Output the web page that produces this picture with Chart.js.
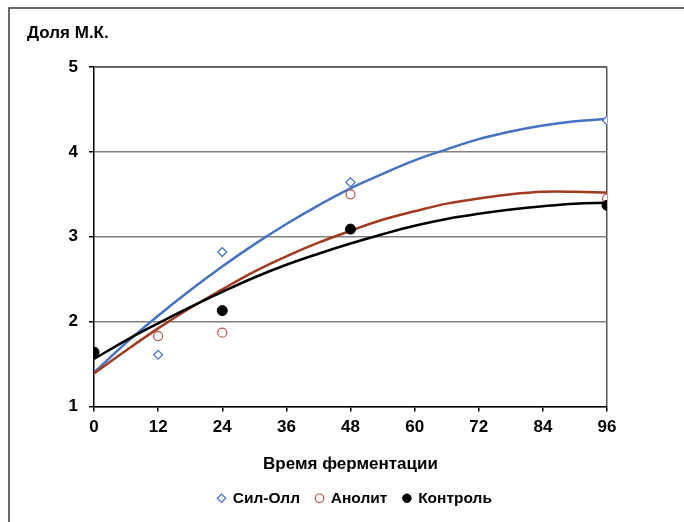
<!DOCTYPE html>
<html>
<head>
<meta charset="utf-8">
<script src="https://cdn.jsdelivr.net/npm/chart.js@4.4.1/dist/chart.umd.min.js"></script>
<style>
  html, body { margin: 0; padding: 0; background: #fff; }
  #wrap { width: 684px; height: 522px; position: relative; }
</style>
</head>
<body>
<div id="wrap"><canvas id="c" width="684" height="522"></canvas></div>
<script>
// ---- data ----
const hours = [0, 12, 24, 48, 96];
const silOll = [1.64, 1.61, 2.82, 3.64, 4.37];
const anolit = [1.64, 1.83, 1.87, 3.50, 3.45];
const controlHours = [0, 24, 48, 96];
const control = [1.64, 2.13, 3.09, 3.37];

// polynomial trend lines as drawn in the reference (read every 6 h)
const trendHours = [0, 6, 12, 18, 24, 30, 36, 42, 48, 54, 60, 66, 72, 78, 84, 90, 96];
const silOllTrend = [1.40, 1.75, 2.07, 2.37, 2.65, 2.91, 3.15, 3.37, 3.57, 3.74, 3.90, 4.03, 4.15, 4.24, 4.31, 4.36, 4.39];
const anolitTrend = [1.39, 1.66, 1.92, 2.16, 2.38, 2.59, 2.77, 2.93, 3.07, 3.20, 3.30, 3.39, 3.45, 3.50, 3.53, 3.53, 3.52];
const controlTrend = [1.56, 1.78, 1.98, 2.17, 2.35, 2.52, 2.67, 2.80, 2.92, 3.03, 3.13, 3.21, 3.27, 3.32, 3.36, 3.39, 3.40];

const seriesNames = ['Сил-Олл', 'Анолит', 'Контроль'];
const xTitle = 'Время ферментации';
const yTitle = 'Доля М.К.';

const BLUE = '#4472C4';
const RED = '#A23A20';
const REDMARK = '#C0504D';
const BLACK = '#000000';
const FONT = "'Liberation Sans', Arial, sans-serif";

const pts = (xs, ys) => xs.map((x, i) => ({ x: x, y: ys[i] }));

const framePlugin = {
  id: 'frame',
  beforeDraw(chart) {
    const ctx = chart.ctx;
    ctx.save();
    ctx.fillStyle = '#fff';
    ctx.fillRect(0, 0, chart.width, chart.height);
    ctx.strokeStyle = '#3a3a3a';
    ctx.lineWidth = 1.5;
    ctx.beginPath();
    ctx.moveTo(9, chart.height + 2);
    ctx.lineTo(9, 8);
    ctx.lineTo(chart.width + 2, 8);
    ctx.stroke();
    ctx.fillStyle = '#000';
    ctx.font = 'bold 17px ' + FONT;
    ctx.textBaseline = 'middle';
    ctx.textAlign = 'left';
    ctx.fillText(yTitle, 27, 33);
    ctx.restore();
  },
  afterDatasetsDraw(chart) {
    const a = chart.chartArea;
    const ctx = chart.ctx;
    ctx.save();
    ctx.strokeStyle = '#555';
    ctx.lineWidth = 1.5;
    ctx.beginPath();
    ctx.moveTo(a.left, a.top);
    ctx.lineTo(a.right, a.top);
    ctx.stroke();
    ctx.restore();
  }
};

new Chart(document.getElementById('c'), {
  type: 'scatter',
  data: {
    datasets: [
      { label: seriesNames[0], data: pts(hours, silOll), pointStyle: 'rectRot', pointRadius: 4.5, pointHoverRadius: 4.5,
        borderColor: BLUE, backgroundColor: '#fff', borderWidth: 1.2, order: 2 },
      { label: seriesNames[1], data: pts(hours, anolit), pointStyle: 'circle', pointRadius: 4.5, pointHoverRadius: 4.5,
        borderColor: REDMARK, backgroundColor: '#fff', borderWidth: 1.2, order: 1 },
      { label: seriesNames[2], data: pts(controlHours, control), pointStyle: 'circle', pointRadius: 5, pointHoverRadius: 5,
        borderColor: BLACK, backgroundColor: BLACK, borderWidth: 1, order: 0 },
      { label: 'trend1', data: pts(trendHours, silOllTrend), showLine: true, pointRadius: 0, borderColor: BLUE,
        borderWidth: 2.5, tension: 0.4, fill: false, order: 5 },
      { label: 'trend2', data: pts(trendHours, anolitTrend), showLine: true, pointRadius: 0, borderColor: RED,
        borderWidth: 2.5, tension: 0.4, fill: false, order: 4 },
      { label: 'trend3', data: pts(trendHours, controlTrend), showLine: true, pointRadius: 0, borderColor: BLACK,
        borderWidth: 2.5, tension: 0.4, fill: false, order: 3 }
    ]
  },
  options: {
    responsive: false,
    animation: false,
    events: [],
    layout: { padding: { left: 26, right: 0, top: 67, bottom: 6 } },
    scales: {
      x: {
        type: 'linear', min: 0, max: 96,
        afterFit(s) { s.height = 68; },
        ticks: { stepSize: 12, color: '#000', font: { family: FONT, size: 17, weight: 'bold' }, padding: 6 },
        grid: {
          color: (c) => (c.tick && c.tick.value === 96) ? '#555' : 'rgba(0,0,0,0)',
          lineWidth: 1.5, tickColor: '#000', tickLength: 5, drawTicks: true
        },
        border: { display: true, color: '#000', width: 1.5 },
        title: { display: true, text: xTitle, color: '#000', font: { family: FONT, size: 17, weight: 'bold' }, padding: { top: 12, bottom: 0 } }
      },
      y: {
        type: 'linear', min: 1, max: 5,
        afterFit(s) { s.width = 68; },
        ticks: { stepSize: 1, color: '#000', font: { family: FONT, size: 17, weight: 'bold' }, padding: 11 },
        grid: { color: '#808080', lineWidth: 1.5, tickColor: '#000', tickLength: 5 },
        border: { display: true, color: '#000', width: 1.5 }
      },
      yRight: {
        type: 'linear', position: 'right', min: 1, max: 5, display: true,
        afterFit(s) { s.width = 77; },
        ticks: { display: false },
        grid: { display: false, drawTicks: false },
        border: { display: false }
      }
    },
    plugins: {
      title: { display: false },
      tooltip: { enabled: false },
      legend: {
        display: true,
        position: 'bottom',
        labels: {
          usePointStyle: true,
          boxWidth: 7, boxHeight: 6,
          padding: 16,
          color: '#000',
          font: { family: FONT, size: 15.5, weight: 'bold' },
          filter: (item) => item.datasetIndex < 3,
          sort: (a, b) => a.datasetIndex - b.datasetIndex
        }
      }
    }
  },
  plugins: [framePlugin]
});
</script>
</body>
</html>
